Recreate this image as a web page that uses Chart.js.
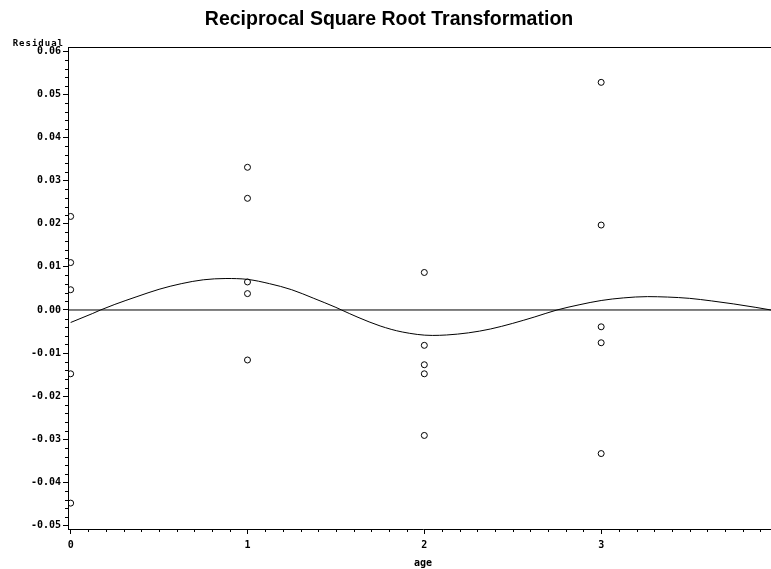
<!DOCTYPE html>
<html>
<head>
<meta charset="utf-8">
<script src="https://cdn.jsdelivr.net/npm/chart.js@4"></script>
<style>
  html, body { margin: 0; padding: 0; background: #fff; overflow: hidden; }
  #wrap { width: 790px; height: 569px; }
  canvas { display: block; background: #fff; }
</style>
</head>
<body>
<div id="wrap"><canvas id="c" width="790" height="569"></canvas></div>
<script>
// Residuals by age
const ageValues = [0, 0, 0, 0, 0,
                   1, 1, 1, 1, 1,
                   2, 2, 2, 2, 2,
                   3, 3, 3, 3, 3];
const residuals = [0.0217, 0.0110, 0.0047, -0.0148, -0.0448,
                   0.0331, 0.0259, 0.0065, 0.0038, -0.0116,
                   0.0087, -0.0082, -0.0127, -0.0148, -0.0291,
                   0.0528, 0.0197, -0.0039, -0.0076, -0.0333];

// Smoothed fit through the residuals
const curveAge = [0, 0.125, 0.169, 0.25, 0.375, 0.5, 0.625, 0.75, 0.878, 1.0, 1.125, 1.25, 1.375, 1.5, 1.532,
                  1.625, 1.75, 1.875, 2.045, 2.125, 2.25, 2.375, 2.5, 2.625, 2.75,
                  2.875, 3.0, 3.125, 3.262, 3.375, 3.5, 3.625, 3.75, 3.875, 3.96, 4.0];
const curveResidual = [-0.0029, -0.0008, 0, 0.0013, 0.0031, 0.0048, 0.0061, 0.0070, 0.0073, 0.0071, 0.0061, 0.0047, 0.0027, 0.0006, 0,
                       -0.0017, -0.0037, -0.0051, -0.0059, -0.0058, -0.0053, -0.0044, -0.0031, -0.0016, 0,
                       0.0012, 0.0022, 0.0028, 0.0031, 0.0030, 0.0027, 0.0021, 0.0014, 0.0006, 0, -0.0003];

// Reference line at zero
const refAge = [-0.015, 4];
const refResidual = [0, 0];

// Axis ticks
const yTickValues = [-0.05, -0.04, -0.03, -0.02, -0.01, 0, 0.01, 0.02, 0.03, 0.04, 0.05, 0.06];
const yTickLabels = ['-0.05', '-0.04', '-0.03', '-0.02', '-0.01', '0.00', '0.01', '0.02', '0.03', '0.04', '0.05', '0.06'];
const xTickValues = [0, 1, 2, 3];
const xTickLabels = ['0', '1', '2', '3'];

const X_MIN = -0.015, X_MAX = 4;
const Y_MIN = -0.0508, Y_MAX = 0.061;

const tickFont = { family: '"DejaVu Sans Mono", monospace', size: 10, weight: 'bold' };

function zip(xs, ys) { return xs.map((x, i) => ({ x: x, y: ys[i] })); }

// Minor ticks, plot frame and the vertical axis caption
const framePlugin = {
  id: 'frame',
  afterDraw(chart) {
    const { ctx, chartArea: a, scales } = chart;
    const xs = scales.x, ys = scales.y;
    ctx.save();
    ctx.strokeStyle = '#000';
    ctx.lineWidth = 1;
    ctx.beginPath();
    ctx.moveTo(a.left, Math.round(a.top) + 0.5);
    ctx.lineTo(a.right, Math.round(a.top) + 0.5);
    ctx.moveTo(Math.round(a.right) + 0.5, a.top);
    ctx.lineTo(Math.round(a.right) + 0.5, a.bottom);
    // y minor ticks every 0.002
    for (let k = -25; k <= 30; k++) {
      if (k % 5 === 0) continue;
      const py = Math.round(ys.getPixelForValue(k * 0.002)) + 0.5;
      ctx.moveTo(a.left - 3, py);
      ctx.lineTo(a.left, py);
    }
    // x minor ticks every 0.1
    for (let k = 1; k <= 40; k++) {
      if (k % 10 === 0) continue;
      const px = Math.round(xs.getPixelForValue(k * 0.1)) + 0.5;
      ctx.moveTo(px, a.bottom);
      ctx.lineTo(px, a.bottom + 3);
    }
    ctx.stroke();

    ctx.fillStyle = '#000';
    ctx.font = 'bold 9px "DejaVu Sans Mono", monospace';
    ctx.letterSpacing = '1px';
    ctx.textAlign = 'right';
    ctx.textBaseline = 'alphabetic';
    ctx.fillText('Residual', a.left - 4, a.top - 1.5);
    ctx.restore();
  }
};

new Chart(document.getElementById('c'), {
  type: 'scatter',
  data: {
    datasets: [
      {
        label: 'Residual',
        data: zip(ageValues, residuals),
        showLine: false,
        pointStyle: 'circle',
        pointRadius: 3,
        pointBorderWidth: 1,
        pointBorderColor: '#000',
        pointBackgroundColor: 'rgba(0,0,0,0)'
      },
      {
        label: 'Smooth',
        data: zip(curveAge, curveResidual),
        showLine: true,
        borderColor: '#000',
        borderWidth: 1,
        pointRadius: 0,
        cubicInterpolationMode: 'monotone',
        fill: false
      },
      {
        label: 'Zero',
        data: zip(refAge, refResidual),
        showLine: true,
        borderColor: '#000',
        borderWidth: 1,
        pointRadius: 0,
        fill: false
      }
    ]
  },
  options: {
    responsive: false,
    animation: false,
    events: [],
    layout: { padding: { left: 0, right: 12, top: 0, bottom: 0 } },
    plugins: {
      legend: { display: false },
      tooltip: { enabled: false },
      title: {
        display: true,
        text: 'Reciprocal Square Root Transformation',
        color: '#000',
        font: { family: '"Liberation Sans", Arial, sans-serif', size: 19.5, weight: 'bold' },
        padding: { top: 8, bottom: 15.6 }
      }
    },
    scales: {
      x: {
        type: 'linear',
        min: X_MIN,
        max: X_MAX,
        afterFit(scale) { scale.height = 40; },
        afterBuildTicks(scale) { scale.ticks = xTickValues.map(v => ({ value: v })); },
        grid: { drawOnChartArea: false, drawTicks: true, tickLength: 5, color: '#000' },
        border: { display: true, color: '#000', width: 1 },
        ticks: {
          autoSkip: false,
          maxRotation: 0,
          padding: 5,
          color: '#000',
          font: tickFont,
          callback: (v) => xTickLabels[xTickValues.indexOf(v)]
        },
        title: {
          display: true,
          text: 'age',
          color: '#000',
          font: { family: '"DejaVu Sans Mono", monospace', size: 10, weight: 'bold' },
          padding: { top: 0, bottom: 0 }
        }
      },
      y: {
        type: 'linear',
        min: Y_MIN,
        max: Y_MAX,
        afterFit(scale) { scale.width = 68; },
        afterBuildTicks(scale) { scale.ticks = yTickValues.map(v => ({ value: v })); },
        grid: { drawOnChartArea: false, drawTicks: true, tickLength: 5, color: '#000' },
        border: { display: true, color: '#000', width: 1 },
        ticks: {
          autoSkip: false,
          padding: 2,
          color: '#000',
          font: tickFont,
          callback: (v) => yTickLabels[yTickValues.indexOf(v)]
        }
      }
    }
  },
  plugins: [framePlugin]
});
</script>
</body>
</html>
